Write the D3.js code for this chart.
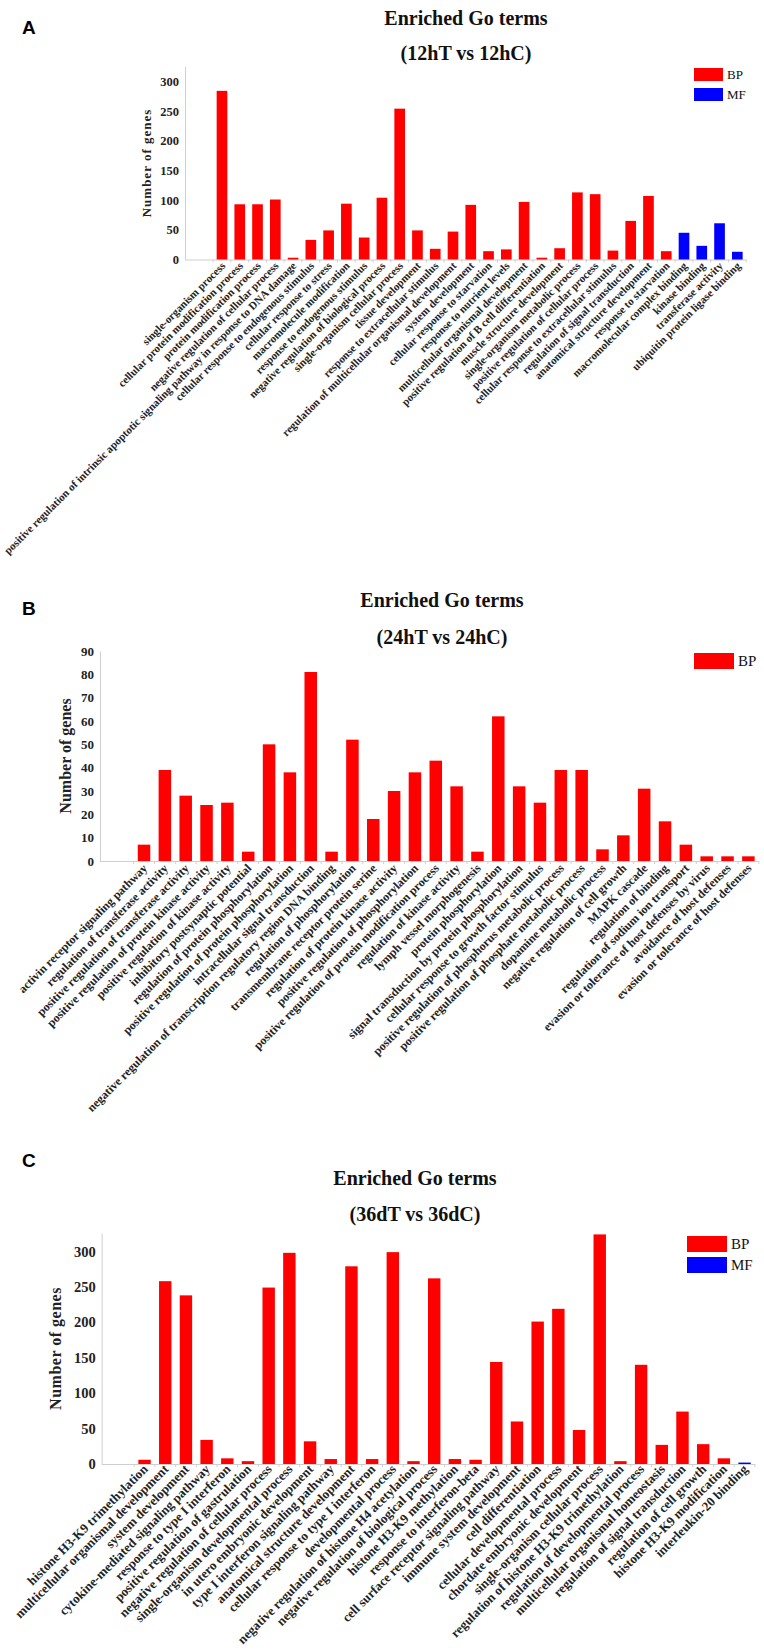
<!DOCTYPE html>
<html><head><meta charset="utf-8">
<script src="https://cdn.jsdelivr.net/npm/d3@7"></script>
<style>body{margin:0;background:#fff} svg{display:block}</style>
</head><body>
<svg id="chart" width="764" height="1652"></svg>
<script>
// ---------- Panel A data (12hT vs 12hC) ----------
const categoriesA = [
 "single-organism process","cellular protein modification process","protein modification process",
 "negative regulation of cellular process","positive regulation of intrinsic apoptotic signaling pathway in response to DNA damage",
 "cellular response to endogenous stimulus","cellular response to stress","macromolecule modification",
 "response to endogenous stimulus","negative regulation of biological process","single-organism cellular process",
 "tissue development","response to extracellular stimulus","regulation of multicellular organismal development",
 "system development","cellular response to starvation","response to nutrient levels",
 "multicellular organismal development","positive regulation of B cell differentiation","muscle structure development",
 "single-organism metabolic process","positive regulation of cellular process","cellular response to extracellular stimulus",
 "regulation of signal transduction","anatomical structure development","response to starvation",
 "macromolecular complex binding","kinase binding","transferase activity","ubiquitin protein ligase binding"];
const valuesA = [284,93,93,101,3,33,49,94,37,104,254,49,18,47,92,14,17,97,3,19,113,110,15,65,107,14,45,23,61,13];
const groupsA = ["BP","BP","BP","BP","BP","BP","BP","BP","BP","BP","BP","BP","BP","BP","BP","BP","BP","BP","BP","BP","BP","BP","BP","BP","BP","BP","MF","MF","MF","MF"];
const ticksA = [0,50,100,150,200,250,300];
const legendA = ["BP","MF"];

// ---------- Panel B data (24hT vs 24hC) ----------
const categoriesB = [
 "activin receptor signaling pathway","regulation of transferase activity","positive regulation of transferase activity",
 "positive regulation of protein kinase activity","positive regulation of kinase activity","inhibitory postsynaptic potential",
 "regulation of protein phosphorylation","positive regulation of protein phosphorylation","intracellular signal transduction",
 "negative regulation of transcription regulatory region DNA binding","regulation of phosphorylation",
 "transmembrane receptor protein serine","regulation of protein kinase activity","positive regulation of phosphorylation",
 "positive regulation of protein modification process","regulation of kinase activity","lymph vessel morphogenesis",
 "protein phosphorylation","signal transduction by protein phosphorylation","cellular response to growth factor stimulus",
 "positive regulation of phosphorus metabolic process","positive regulation of phosphate metabolic process",
 "dopamine metabolic process","negative regulation of cell growth","MAPK cascade","regulation of binding",
 "regulation of sodium ion transport","evasion or tolerance of host defenses by virus","avoidance of host defenses",
 "evasion or tolerance of host defenses"];
const valuesB = [7,39,28,24,25,4,50,38,81,4,52,18,30,38,43,32,4,62,32,25,39,39,5,11,31,17,7,2,2,2];
const groupsB = categoriesB.map(() => "BP");
const ticksB = [0,10,20,30,40,50,60,70,80,90];
const legendB = ["BP"];

// ---------- Panel C data (36dT vs 36dC) ----------
const categoriesC = [
 "histone H3-K9 trimethylation","multicellular organismal development","system development",
 "cytokine-mediated signaling pathway","response to type I interferon","positive regulation of gastrulation",
 "negative regulation of cellular process","single-organism developmental process","in utero embryonic development",
 "type I interferon signaling pathway","anatomical structure development","cellular response to type I interferon",
 "developmental process","negative regulation of histone H4 acetylation","negative regulation of biological process",
 "histone H3-K9 methylation","response to interferon-beta","cell surface receptor signaling pathway",
 "immune system development","cell differentiation","cellular developmental process","chordate embryonic development",
 "single-organism cellular process","regulation of histone H3-K9 trimethylation","regulation of developmental process",
 "multicellular organismal homeostasis","regulation of signal transduction","regulation of cell growth",
 "histone H3-K9 modification","interleukin-20 binding"];
const valuesC = [6,258,238,34,8,4,249,298,32,7,279,7,299,4,262,7,6,144,60,201,219,48,324,4,140,27,74,28,8,2];
const groupsC = categoriesC.map((d,i) => i === categoriesC.length-1 ? "MF" : "BP");
const ticksC = [0,50,100,150,200,250,300];
const legendC = ["BP","MF"];

const colors = {BP:"#ff0000", MF:"#0000ff"};
const SERIF = "'Liberation Serif','Times New Roman',serif";
const SANS = "'Liberation Sans',Arial,sans-serif";

const svg = d3.select("#chart");

function panel(o){
  const g = svg.append("g");
  const x = d3.scaleBand().domain(o.cats).range([o.bx0, o.bx1]).paddingInner(0.4).paddingOuter(0.2);
  const y = d3.scaleLinear().domain([0, o.ymax]).range([o.y0, o.y1]);

  g.append("text").attr("x", o.lx).attr("y", o.ly).text(o.letter)
    .attr("font-family", SANS).attr("font-weight", "bold").attr("font-size", 19).attr("fill", "#000");

  g.append("text").attr("x", o.tx).attr("y", o.ty1).attr("text-anchor", "middle").text("Enriched Go terms")
    .attr("font-family", SERIF).attr("font-weight", "bold").attr("font-size", 20).attr("fill", "#111");
  g.append("text").attr("x", o.tx).attr("y", o.ty2).attr("text-anchor", "middle").text(o.sub)
    .attr("font-family", SERIF).attr("font-weight", "bold").attr("font-size", 20).attr("fill", "#111");

  const ya = g.append("g").attr("transform", `translate(${o.ax},0)`)
    .call(d3.axisLeft(y).tickValues(o.ticks).tickSize(0).tickPadding(6));
  ya.select(".domain").attr("stroke", "#cfcfcf");
  ya.selectAll("text").attr("font-family", SERIF).attr("font-weight", "bold")
    .attr("font-size", o.tickFs).attr("fill", "#222");

  g.append("line").attr("x1", o.ax).attr("x2", o.bx1).attr("y1", o.y0 + 0.5).attr("y2", o.y0 + 0.5)
    .attr("stroke", "#cfcfcf");
  const bounds = o.cats.map(c => x(c) - x.step() * 0.2).concat([o.bx1]);
  g.selectAll("line.bt").data(bounds).join("line").attr("class", "bt")
    .attr("x1", d => d).attr("x2", d => d).attr("y1", o.y0).attr("y2", o.y0 + 3).attr("stroke", "#cfcfcf");

  g.selectAll("rect.bar").data(o.cats).join("rect").attr("class", "bar")
    .attr("x", d => x(d)).attr("width", x.bandwidth())
    .attr("y", (d, i) => y(o.vals[i])).attr("height", (d, i) => y(0) - y(o.vals[i]))
    .attr("fill", (d, i) => colors[o.groups[i]]);

  g.selectAll("text.lab").data(o.cats).join("text").attr("class", "lab")
    .attr("transform", d => `translate(${x(d) + x.bandwidth() / 2 + o.ldx},${o.y0 + o.ldy}) rotate(-45)`)
    .attr("text-anchor", "end").text(d => d)
    .attr("font-family", SERIF).attr("font-weight", "bold").attr("font-size", o.labFs).attr("fill", "#222");

  g.append("text").attr("transform", `translate(${o.ylx},${(o.y0 + o.y1) / 2}) rotate(-90)`)
    .attr("text-anchor", "middle").text("Number of genes")
    .attr("font-family", SERIF).attr("font-weight", "bold").attr("font-size", o.ylFs)
    .attr("letter-spacing", o.ylLs).attr("fill", "#222");

  o.legend.forEach((k, i) => {
    const ly = o.legy + i * o.legStep;
    g.append("rect").attr("x", o.legx).attr("y", ly).attr("width", o.legW).attr("height", o.legH)
      .attr("fill", colors[k]);
    g.append("text").attr("x", o.legx + o.legW + 4).attr("y", ly + o.legH / 2 + o.legFs * 0.33).text(k)
      .attr("font-family", SERIF).attr("font-size", o.legFs).attr("fill", "#111");
  });
}

panel({letter:"A", lx:22, ly:34, tx:466, ty1:25, ty2:60, sub:"(12hT vs 12hC)",
  cats:categoriesA, vals:valuesA, groups:groupsA, ticks:ticksA, ymax:325,
  ax:185, bx0:213.1, bx1:746.2, y0:259.5, y1:66.5, tickFs:12.5, labFs:11, ldx:4, ldy:7,
  ylx:151, ylFs:13, ylLs:1, legend:legendA, legx:694, legy:68, legStep:20, legW:29, legH:13, legFs:13});

panel({letter:"B", lx:22, ly:615, tx:442, ty1:607, ty2:644, sub:"(24hT vs 24hC)",
  cats:categoriesB, vals:valuesB, groups:groupsB, ticks:ticksB, ymax:90,
  ax:100, bx0:133.6, bx1:758.8, y0:861, y1:651, tickFs:13, labFs:12, ldx:4, ldy:8,
  ylx:71, ylFs:16, ylLs:0, legend:legendB, legx:694, legy:653, legStep:20, legW:40, legH:16, legFs:15});

panel({letter:"C", lx:22, ly:1167, tx:415, ty1:1185, ty2:1221, sub:"(36dT vs 36dC)",
  cats:categoriesC, vals:valuesC, groups:groupsC, ticks:ticksC, ymax:326,
  ax:101.7, bx0:134.2, bx1:754.9, y0:1464, y1:1233, tickFs:14.5, labFs:13, ldx:4, ldy:6,
  ylx:61, ylFs:16, ylLs:0.5, legend:legendC, legx:687, legy:1236, legStep:21, legW:40, legH:16, legFs:15});
</script>
</body></html>
